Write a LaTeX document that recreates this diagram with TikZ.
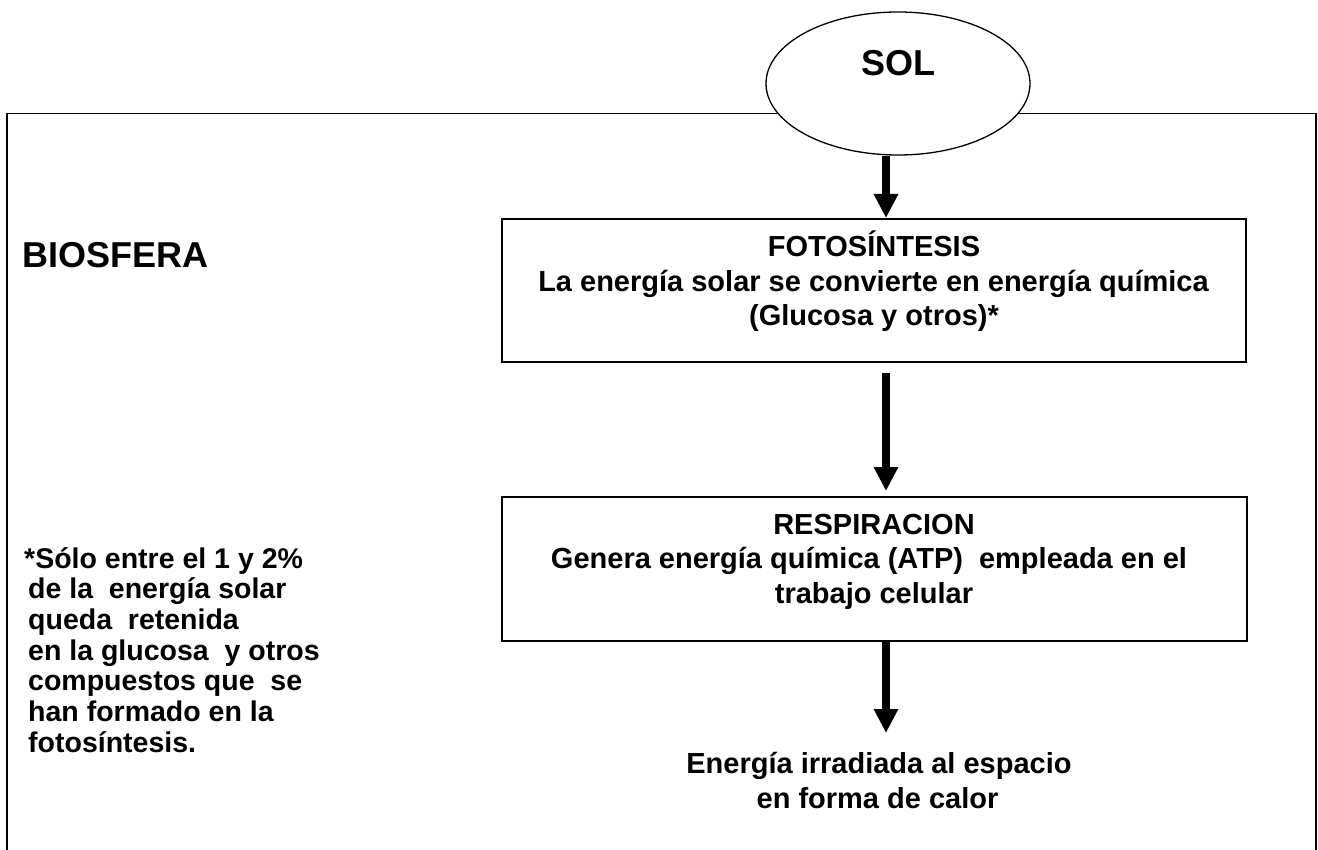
\documentclass[tikz,border=0pt]{standalone}
\usepackage{fontspec}
\setmainfont{Liberation Sans}
\usetikzlibrary{shapes.geometric,arrows.meta}
\begin{document}
\begin{tikzpicture}[x=1pt,y=-1pt,
  big/.style={font=\fontsize{36}{40}\selectfont\bfseries, inner sep=0pt},
  txt/.style={font=\fontsize{29}{34}\selectfont\bfseries, inner sep=0pt, anchor=base},
  note/.style={font=\fontsize{28.5}{31}\selectfont\bfseries, inner sep=0pt, anchor=base west},
  stepbox/.style={draw, line width=2pt, minimum width=744pt, minimum height=143pt, inner sep=0pt},
  flow/.style={line width=8pt, -{Triangle[width=23pt,length=24pt]}},
]
\useasboundingbox (0,0) rectangle (1318,850);
% outer frame (BIOSFERA)
\draw[line width=1.8pt] (7,852) -- (7,113.5) -- (1316,113.5) -- (1316,852);
% process boxes
\node[stepbox] (foto) at (874,290.5) {};
\node[stepbox, minimum width=745pt, minimum height=144pt] (resp) at (874.5,569) {};
% sun
\node[ellipse, draw, fill=white, line width=1.3pt, minimum width=264pt, minimum height=143pt,
      inner sep=0pt, text height=26pt, text depth=41pt,
      font=\fontsize{36}{40}\selectfont\bfseries] (sol) at (898,83.5) {SOL};
% arrows
\coordinate (ax) at (886,0);
\coordinate (heat) at (886,733);
\draw[flow] (sol.south -| ax) -- (foto.north -| ax);
\draw[flow, shorten <=10pt, shorten >=5pt] (foto.south -| ax) -- (resp.north -| ax);
\draw[flow] (resp.south -| ax) -- (heat);
% box texts
\node[txt] (f1) at (874,257) {FOTOSÍNTESIS};
\node[txt] (f2) at (873.5,291.5) {La energía solar se convierte en energía química};
\node[txt] (f3) at (874,326) {(Glucosa y otros)*};
\node[txt] (r1) at (874,534) {RESPIRACION};
\node[txt] (r2) at (869,568.5) {Genera energía química (ATP)~ empleada en el};
\node[txt] (r3) at (874,603) {trabajo celular};
\node[txt] (e1) at (879,773) {Energía irradiada al espacio};
\node[txt] (e2) at (877.5,808) {en forma de calor};
% left texts
\node[big, anchor=base west] (bio) at (22.5,268) {BIOSFERA};
\node[note] (n1) at (24,568) {*Sólo entre el 1 y 2\%};
\node[note] (n2) at (28,598.7) {de la~ energía solar};
\node[note] (n3) at (28,629.4) {queda~ retenida};
\node[note] (n4) at (28,660.1) {en la glucosa~ y otros};
\node[note] (n5) at (28,690.8) {compuestos que~ se};
\node[note] (n6) at (28,721.5) {han formado en la};
\node[note] (n7) at (28,752.2) {fotosíntesis.};
\end{tikzpicture}
\end{document}
